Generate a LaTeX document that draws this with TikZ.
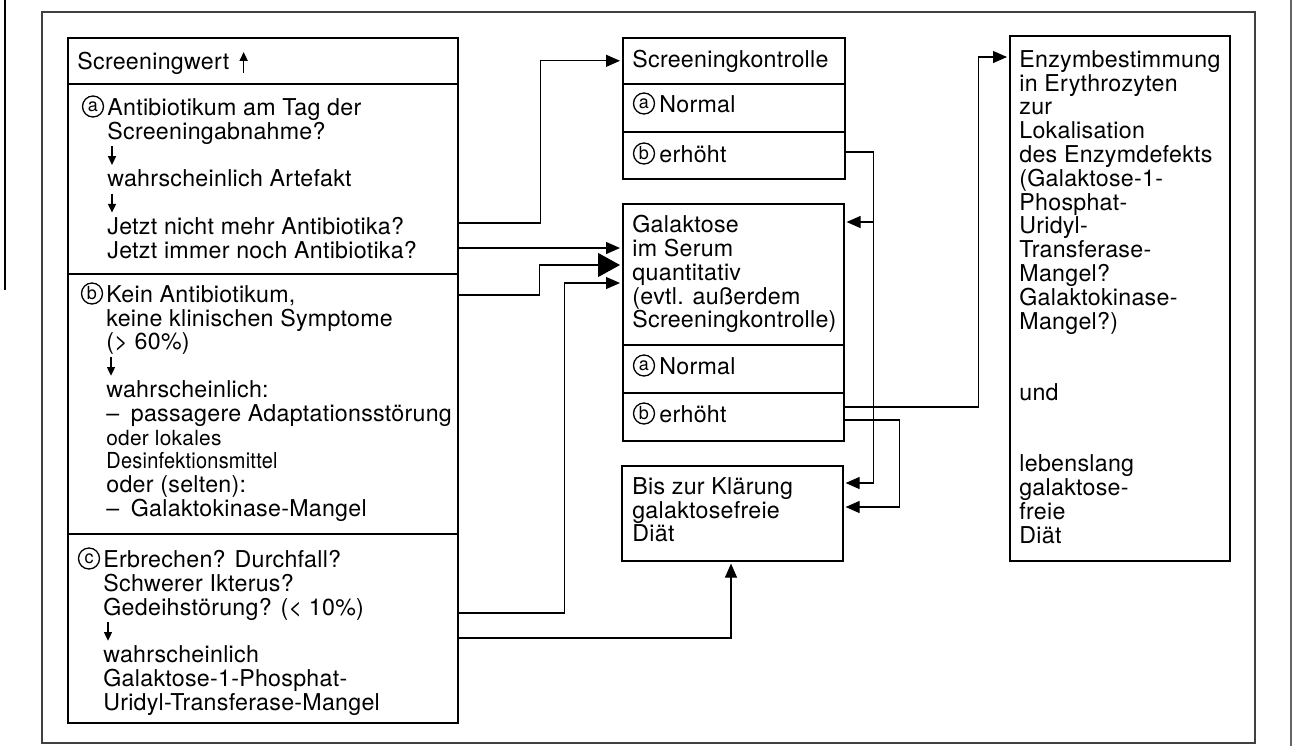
\documentclass[tikz,border=0pt]{standalone}
\usepackage{fontspec}
\setmainfont[LetterSpace=1.2]{TeX Gyre Heros}
\usepackage{graphicx}
\usetikzlibrary{arrows.meta,positioning,calc}

\tikzset{
  box/.style  = {draw, line width=0.8pt, anchor=north west, inner sep=0pt},
  txt/.style  = {anchor=north west, align=left, inner sep=0pt,
                 font=\fontsize{11.6}{11.9}\selectfont,
                 execute at begin node={\rule{0pt}{8.4pt}}},
  kreis/.style = {circle, draw, line width=0.65pt, inner sep=0pt,
                  minimum size=10.5pt, font=\fontsize{9}{9}\selectfont},
  pfeil/.style = {line width=0.7pt, -{Triangle[length=4.4pt,width=4pt]}},
  wire/.style = {line width=0.6pt},
  flow/.style = {wire, -{Triangle[length=7pt,width=6pt]}, shorten >=1pt},
  bigflow/.style = {flow, -{Triangle[length=11pt,width=12pt]}},
  frame/.style = {line width=0.6pt, draw=black!75},
  rand/.style = {line width=0.8pt, draw=black!60},
}

\begin{document}
\begin{tikzpicture}[x=0.5pt, y=-0.5pt]
  \useasboundingbox (0,0) rectangle (1303,746);
  \draw[frame] (42,12) rectangle (1255,743);
  \draw[rand, draw=black] (5,0) -- (5,290);
  \draw[rand] (1291,0) -- (1291,746);

  % linke Spalte
  \node[box, minimum width=195pt, minimum height=23pt] (hdr) at (67,37) {};
  \node[box, minimum width=195pt, minimum height=95pt] (secA) at (67,83) {};
  \node[box, minimum width=195pt, minimum height=130pt] (secB) at (67,273) {};
  \node[box, minimum width=195pt, minimum height=94.5pt] (secC) at (67,533) {};
  \node[txt] (tHdr) at ($(hdr.north west)+(10,15)$) {Screeningwert};
  \draw[pfeil] ($(tHdr.north east)+(14,21)$) -- ++(0,-21);
  \node[txt] (tA) at ($(secA.north west)+(40,15)$)
    {Antibiotikum am Tag der\\
     Screeningabnahme?\\
     \mbox{}\\
     wahrscheinlich Artefakt\\
     \mbox{}\\
     Jetzt nicht mehr Antibiotika?\\
     Jetzt immer noch Antibiotika?};
  \node[kreis] (kA) at ($(tA.north west)+(-14,8.5)$) {a};
  \draw[pfeil] ($(tA.north west)+(5,48)$) -- ++(0,19);
  \draw[pfeil] ($(tA.north west)+(5,95.6)$) -- ++(0,19);
  \node[txt] (tB) at ($(secB.north west)+(39,12)$)
    {Kein Antibiotikum,\\
     keine klinischen Symptome\\
     (> 60\%)\\
     \mbox{}\\
     wahrscheinlich:\\
     --\enspace passagere Adaptationsstörung\\
     \scalebox{0.9}{oder lokales}\\
     \scalebox{0.86}[0.95]{Desinfektionsmittel}\\
     oder (selten):\\
     --\enspace Galaktokinase-Mangel};
  \node[kreis] (kB) at ($(tB.north west)+(-14,8.5)$) {b};
  \draw[pfeil] ($(tB.north west)+(5,71.8)$) -- ++(0,19);
  \node[txt] (tC) at ($(secC.north west)+(36,17)$)
    {Erbrechen? Durchfall?\\
     Schwerer Ikterus?\\
     Gedeihstörung? (< 10\%)\\
     \mbox{}\\
     wahrscheinlich\\
     Galaktose-1-Phosphat-\\
     Uridyl-Transferase-Mangel};
  \node[kreis] (kC) at ($(tC.north west)+(-14,8.5)$) {c};
  \draw[pfeil] ($(tC.north west)+(5,71.8)$) -- ++(0,19);

  % mittlere Spalte
  \node[box, minimum width=111pt, minimum height=23pt] (skHdr) at (622,37) {};
  \node[box, minimum width=111pt, minimum height=24pt] (skN) at (622,83) {};
  \node[box, minimum width=111pt, minimum height=23.5pt] (skE) at (622,131) {};
  \node[box, minimum width=110.5pt, minimum height=70.5pt] (galHdr) at (622,203) {};
  \node[box, minimum width=110.5pt, minimum height=24pt] (galN) at (622,344) {};
  \node[box, minimum width=110.5pt, minimum height=24pt] (galE) at (622,392) {};
  \node[box, minimum width=110.5pt, minimum height=47.5pt] (diaet) at (621,465) {};
  \node[txt] (tSk) at ($(skHdr.north west)+(10,13)$) {Screeningkontrolle};
  \node[txt] (tSkN) at ($(skN.north west)+(37,12)$) {Normal};
  \node[kreis] (kSkN) at ($(tSkN.north west)+(-15,8.5)$) {a};
  \node[txt] (tSkE) at ($(skE.north west)+(37,14)$) {erhöht};
  \node[kreis] (kSkE) at ($(tSkE.north west)+(-15,8.5)$) {b};
  \node[txt] (tGal) at ($(galHdr.north west)+(10,12)$)
    {Galaktose\\ im Serum\\ quantitativ\\ (evtl. außerdem\\ Screeningkontrolle)};
  \node[txt] (tGalN) at ($(galN.north west)+(37,13)$) {Normal};
  \node[kreis] (kGalN) at ($(tGalN.north west)+(-15,8.5)$) {a};
  \node[txt] (tGalE) at ($(galE.north west)+(37,13)$) {erhöht};
  \node[kreis] (kGalE) at ($(tGalE.north west)+(-15,8.5)$) {b};
  \node[txt] (tDiaet) at ($(diaet.north west)+(11,12)$)
    {Bis zur Klärung\\ galaktosefreie\\ Diät};

  % rechte Spalte
  \node[box, minimum width=110pt, minimum height=262.5pt] (enzym) at (1009,35) {};
  \node[txt] (tEnzym) at ($(enzym.north west)+(10,15)$)
    {Enzymbestimmung\\ in Erythrozyten\\ zur\\ Lokalisation\\ des Enzymdefekts\\
     (Galaktose-1-\\ Phosphat-\\ Uridyl-\\ Transferase-\\ Mangel?\\
     Galaktokinase-\\ Mangel?)\\[23.8pt]
     und\\[23.8pt]
     lebenslang\\ galaktose-\\ freie\\ Diät};

  % Verbindungen
  \draw[flow] ($(secA.north east)+(0,140)$) -- ++(82,0) |- (skHdr.west);
  \draw[flow] ($(secA.north east)+(0,165)$) coordinate (a2) -- (a2 -| galHdr.west);
  \draw[bigflow] ($(secB.north east)+(0,22)$) -- ++(81,0)
    |- ($(galHdr.north west)+(0,62)$);
  \draw[flow] ($(secC.north east)+(0,80)$) -- ++(106,0)
    |- ($(galHdr.north west)+(0,80)$);
  \draw[flow] ($(secC.north east)+(0,105)$) -| ($(diaet.south west)+(110,0)$);
  \draw[wire] ($(skE.north east)+(0,21)$) -- ++(28,0) coordinate (kE);
  \draw[flow] (kE) |- ($(galHdr.north east)+(0,19)$);
  \draw[flow] (kE) |- ($(diaet.north east)+(0,18)$);
  \draw[flow] ($(galE.north east)+(0,15)$) -- ++(134,0)
    |- ($(enzym.north west)+(0,22)$);
  \draw[flow] ($(galE.north east)+(0,28)$) -- ++(55,0)
    |- ($(diaet.north east)+(0,42)$);
\end{tikzpicture}
\end{document}
